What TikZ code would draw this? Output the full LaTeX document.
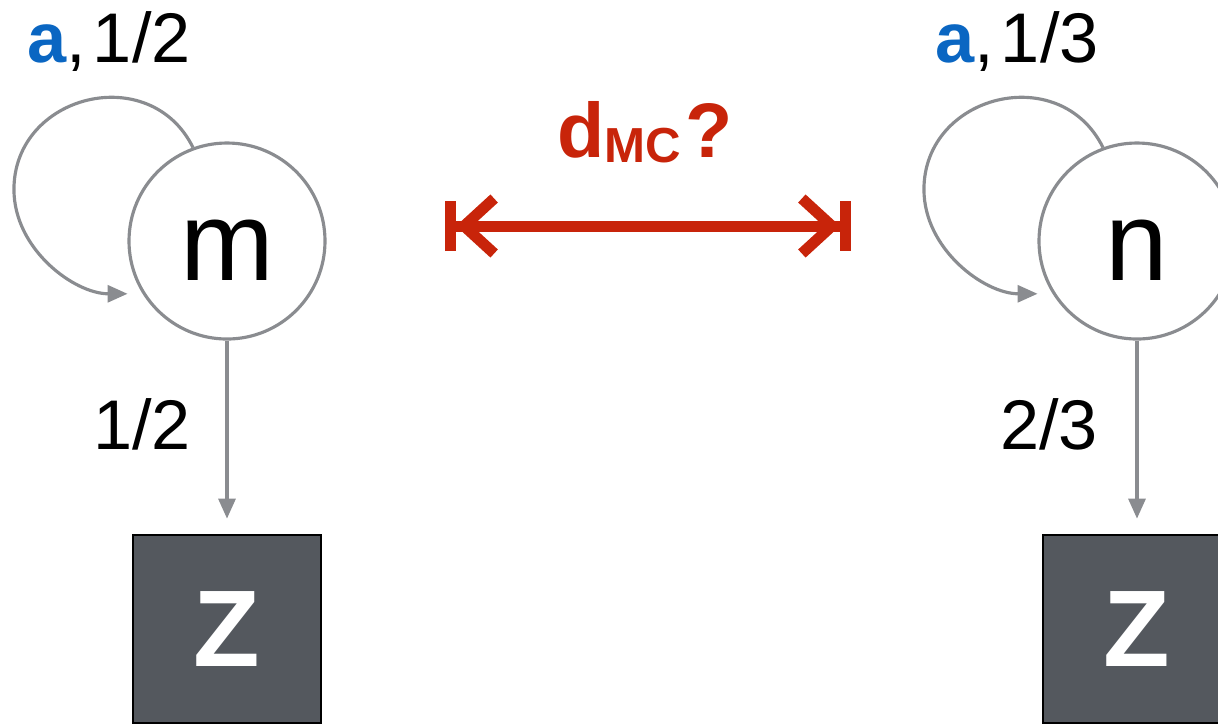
\documentclass[tikz,border=0pt]{standalone}
\usepackage{fontspec}
\setmainfont{Liberation Sans}
\usetikzlibrary{arrows.meta}
\definecolor{edgegray}{RGB}{138,140,144}
\definecolor{actblue}{RGB}{10,102,194}
\definecolor{distred}{RGB}{200,36,10}
\definecolor{sinkgray}{RGB}{84,88,94}
\tikzset{
  >=Stealth,
  statenode/.style={circle, draw=edgegray, line width=0.9pt,
                    minimum size=1.96cm, inner sep=0pt,
                    font=\fontsize{32}{32}\selectfont,
                    text height=0.78cm, text depth=0cm},
  sinkbox/.style={rectangle, draw=black, fill=sinkgray, line width=0.8pt,
                  minimum size=1.88cm, inner sep=0pt, text=white,
                  font=\fontsize{31}{31}\selectfont\bfseries},
  transedge/.style={-{Triangle[length=0.2cm,width=0.17cm]},
                    edgegray, line width=0.9pt},
  distarrow/.style={arrows={Bar[width=0.5cm]Straight Barb[length=0.3cm,width=0.55cm]-Straight Barb[length=0.3cm,width=0.55cm]Bar[width=0.5cm]},
                    distred, line width=0.11cm},
  problabel/.style={font=\fontsize{20}{20}\selectfont},
}
\newcommand{\actlabel}[1]{\textbf{\color{actblue}a},\kern2pt#1}
\begin{document}
\begin{tikzpicture}
  \useasboundingbox (0,0) rectangle (12.18,-7.26);

  % the two chains
  \node[statenode] (m) at (2.27,-2.41) {m};
  \node[statenode] (n) at (11.37,-2.41) {n};
  \node[sinkbox] (zm) at (2.27,-6.29) {Z};
  \node[sinkbox] (zn) at (11.37,-6.29) {Z};

  \foreach \st in {m,n}{
    \draw[transedge, shorten >=0.15cm]
      (\st.110) .. controls +(-0.43,0.87) and +(0,0.95) .. ++(-1.79,-0.42)
                .. controls +(0,-0.60) and +(-0.68,0) .. (\st.212);
  }
  \draw[transedge, shorten >=0.15cm] (m) -- (zm);
  \draw[transedge, shorten >=0.15cm] (n) -- (zn);

  % labels
  \node[problabel] (loopm) at (1.09,-0.42) {\actlabel{1/2}};
  \node[problabel] (loopn) at (10.17,-0.42) {\actlabel{1/3}};
  \node[problabel] (exitm) at (1.42,-4.24) {1/2};
  \node[problabel] (exitn) at (10.49,-4.24) {2/3};

  % distance between the chains
  \coordinate (dl) at (4.45,-2.26);
  \coordinate (dr) at (8.51,-2.26);
  \draw[distarrow] (dl) -- (dr);
  \node[distred, font=\fontsize{22}{22}\selectfont\bfseries] (dmc) at (6.45,-1.32)
    {d\raisebox{-1.5pt}{\fontsize{14}{14}\selectfont MC}\kern1pt?};
\end{tikzpicture}
\end{document}
